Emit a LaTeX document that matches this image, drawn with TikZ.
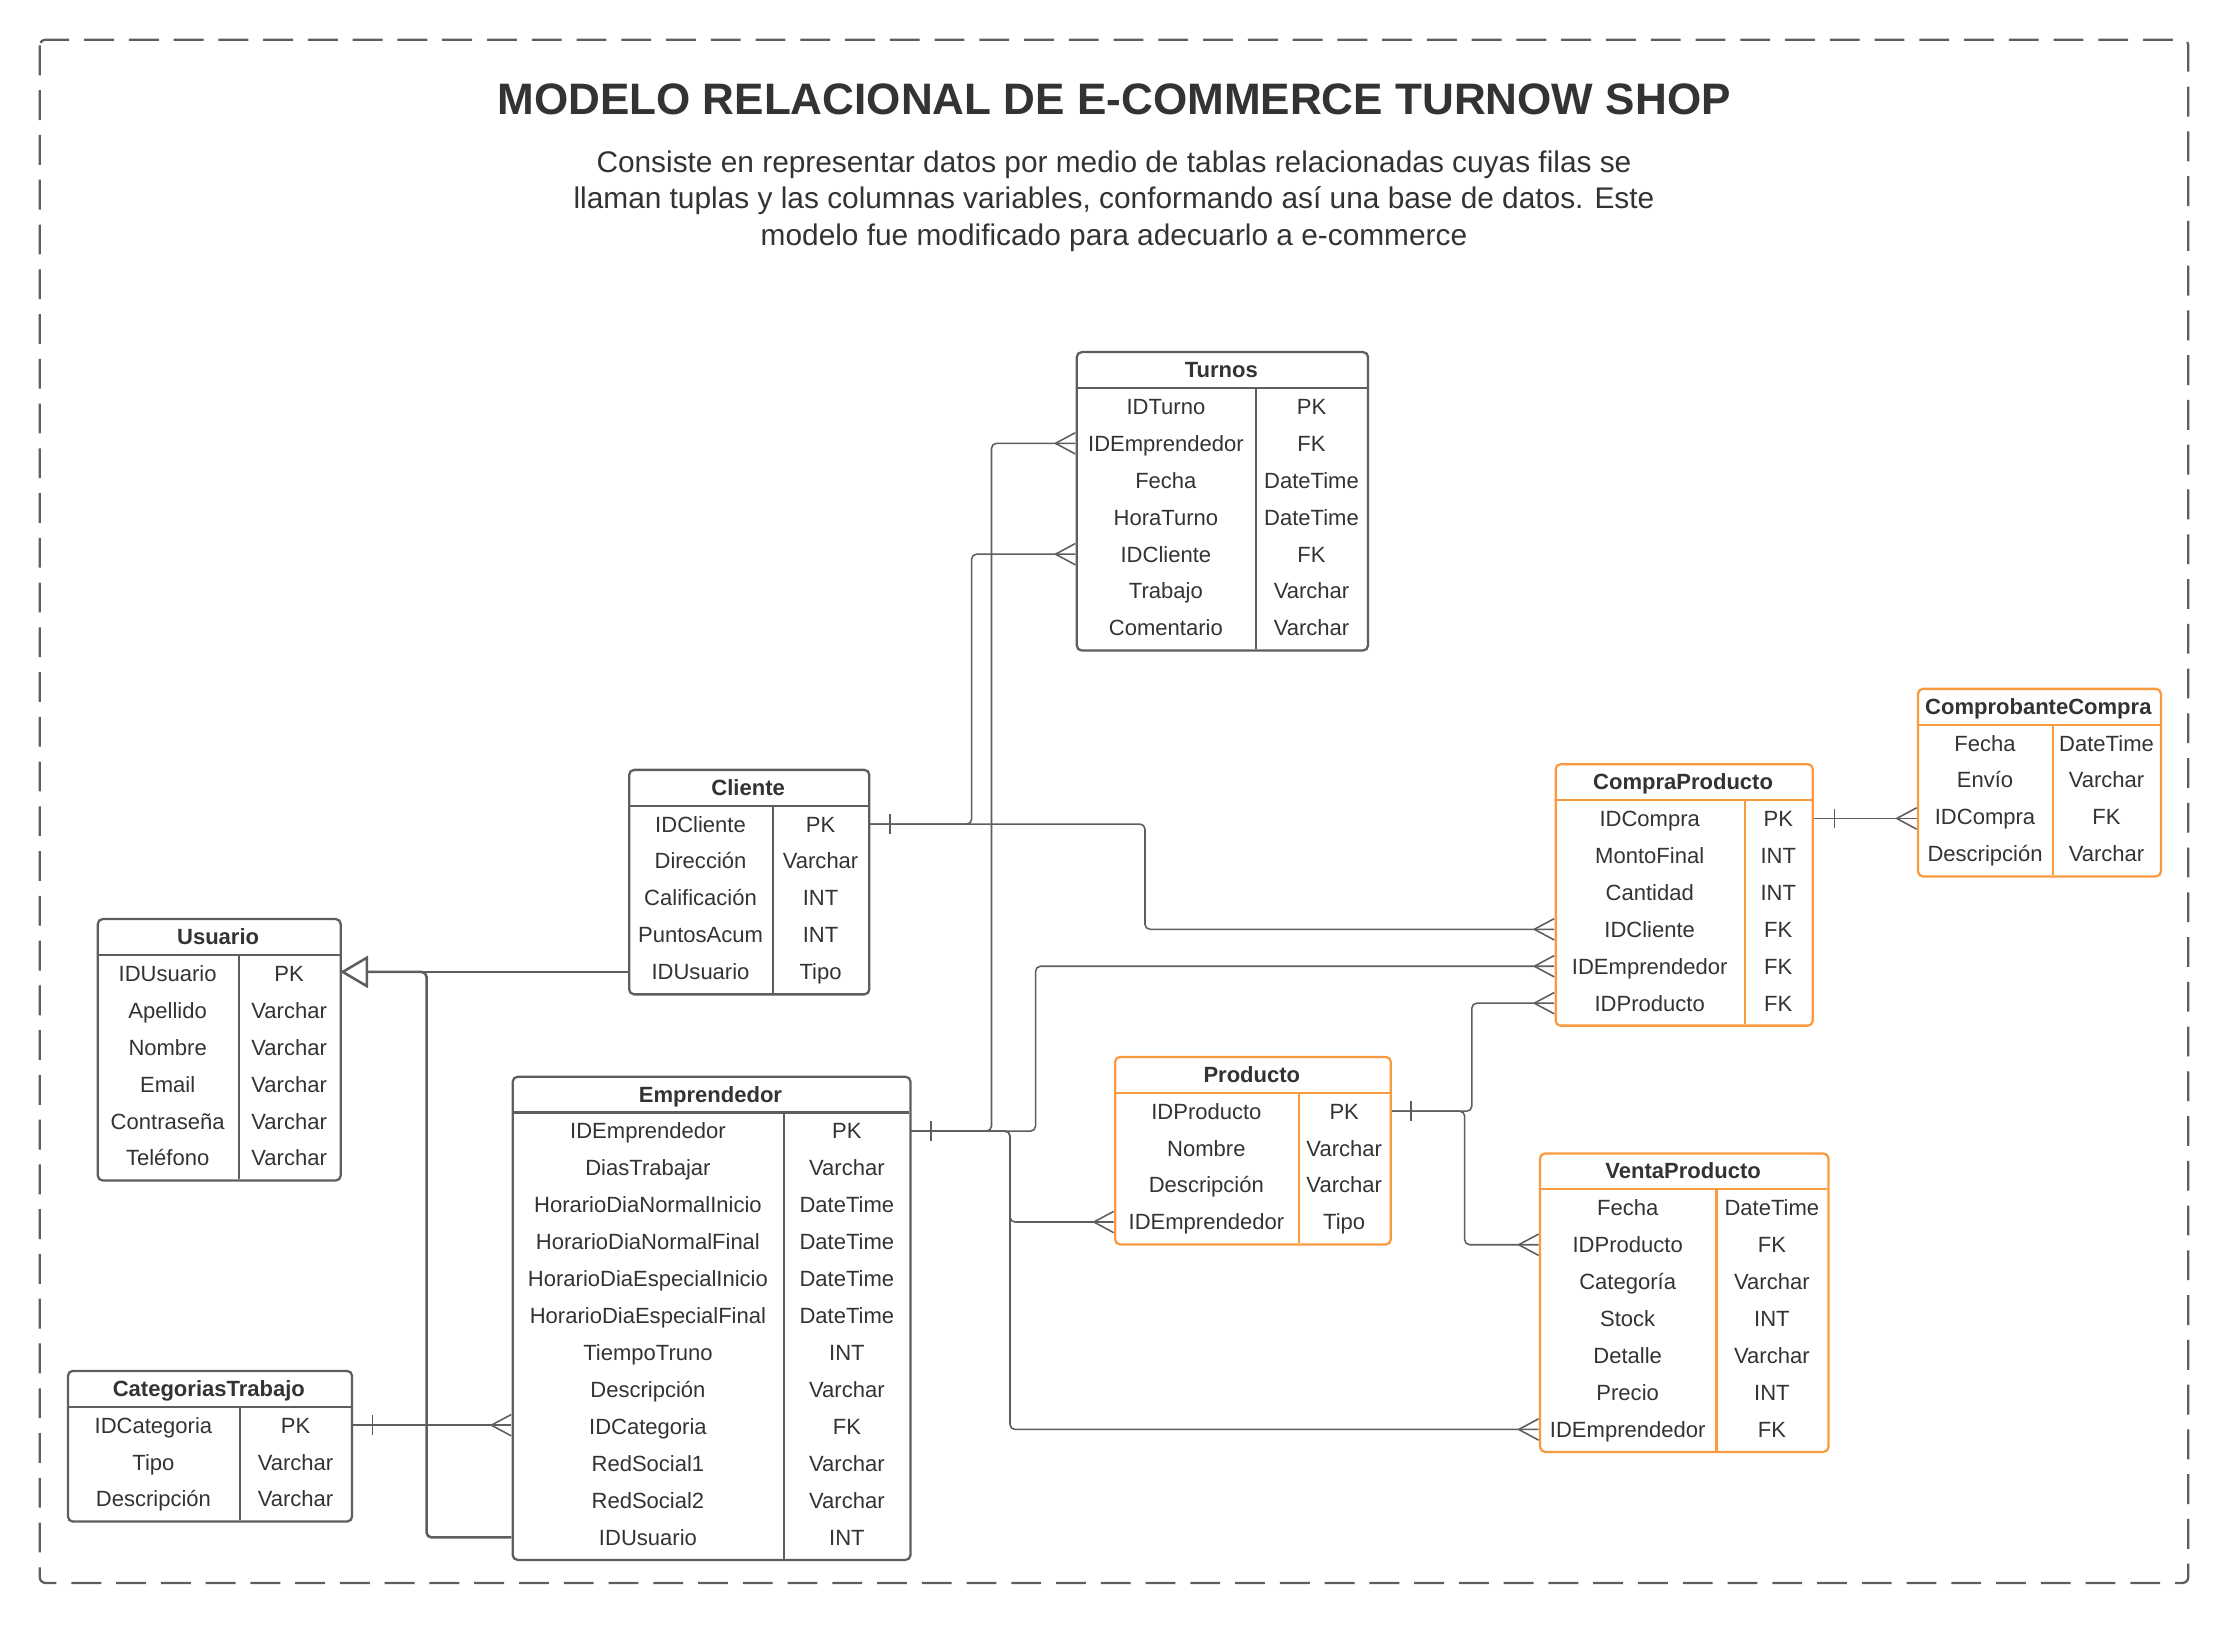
\documentclass[tikz,border=0pt]{standalone}
\usepackage{fontspec}
\setmainfont{Liberation Sans}
\usetikzlibrary{calc}
\definecolor{linec}{HTML}{5E5E5E}
\definecolor{txtc}{HTML}{333333}
\definecolor{orng}{HTML}{F99A3E}
\pgfdeclarelayer{bg}
\pgfsetlayers{bg,main}
\tikzset{
 tabbox/.style={draw, fill=white, rounded corners=3.5pt, line width=1.6pt, inner sep=0pt, anchor=north west},
 sepline/.style={line width=1.6pt},
 cell/.style={inner sep=0pt, text=txtc, font=\fontsize{15.5}{18}\selectfont, text height=11.1pt, text depth=0pt},
 hdr/.style={cell, font=\bfseries\fontsize{15.5}{18}\selectfont},
 rowbox/.style={inner sep=0pt, minimum height=26pt},
 conn/.style={draw=linec, line width=1.1pt, rounded corners=3.5pt},
 inh/.style={draw=linec, line width=1.8pt, rounded corners=3.5pt},
}
\newcommand\erdtab[9]{%
 \pgfmathsetmacro\erdw{#4-#2}%
 \pgfmathsetmacro\erdh{26+26*#6+2}%
 \node[tabbox, draw=#8, minimum width=\erdw pt, minimum height=\erdh pt] (#1) at (#2,#3) {};
 \draw[sepline, draw=#8] (#2,#3+26) -- (#4,#3+26);
 \draw[sepline, draw=#8] (#5,#3+26) -- (#5,#3+\erdh);
 \node[hdr] at ({(#2+#4)/2},#3+13) {#7};
 \foreach \fa/\fb [count=\i from 0] in {#9} {%
   \node[rowbox, minimum width=\erdw pt] (#1-\i) at ({(#2+#4)/2},#3+39+26*\i) {};
   \node[cell] at ({(#2+#5)/2},#3+39+26*\i) {\fa};
   \node[cell] at ({(#5+#4)/2},#3+39+26*\i) {\fb};
 }%
}
\newcommand\crowfoot[1]{\draw[conn] ($(#1)+(-14,0)$) -- ($(#1)+(0,-7.5)$) ($(#1)+(-14,0)$) -- ($(#1)+(0,7.5)$);}
\newcommand\onebar[2][15]{\draw[conn] ($(#2)+(#1,-7)$) -- ($(#2)+(#1,7)$);}
\begin{document}
\begin{tikzpicture}[x=1pt,y=-1pt]
\useasboundingbox (0,0) rectangle (1568,1143);
\draw[draw=linec, line width=1.6pt, rounded corners=4pt, dash pattern=on 21pt off 10.5pt] (28,28) rectangle (1540,1114);
\node[text=txtc, font=\bfseries\fontsize{31}{37}\selectfont] (title) at (784,70) {MODELO RELACIONAL DE E-COMMERCE TURNOW SHOP};
\node[text=txtc, font=\fontsize{21}{25.5}\selectfont, align=center] (sub) at (784,141.5) {Consiste en representar datos por medio de tablas relacionadas cuyas filas se\\llaman tuplas y las columnas variables, conformando así una base de datos. Este\\modelo fue modificado para adecuarlo a e-commerce};

\erdtab{turnos}{757}{247}{962}{884}{7}{Turnos}{linec}{IDTurno/PK,IDEmprendedor/FK,Fecha/DateTime,HoraTurno/DateTime,IDCliente/FK,Trabajo/Varchar,Comentario/Varchar}
\erdtab{cliente}{442}{541}{611}{544}{5}{Cliente}{linec}{IDCliente/PK,Dirección/Varchar,Calificación/INT,PuntosAcum/INT,IDUsuario/Tipo}
\erdtab{usuario}{68}{646}{239}{168}{6}{Usuario}{linec}{IDUsuario/PK,Apellido/Varchar,Nombre/Varchar,Email/Varchar,Contraseña/Varchar,Teléfono/Varchar}
\erdtab{emp}{360}{757}{640}{552}{12}{Emprendedor}{linec}{IDEmprendedor/PK,DiasTrabajar/Varchar,HorarioDiaNormalInicio/DateTime,HorarioDiaNormalFinal/DateTime,HorarioDiaEspecialInicio/DateTime,HorarioDiaEspecialFinal/DateTime,TiempoTruno/INT,Descripción/Varchar,IDCategoria/FK,RedSocial1/Varchar,RedSocial2/Varchar,IDUsuario/INT}
\erdtab{cat}{47}{964}{247}{169}{3}{CategoriasTrabajo}{linec}{IDCategoria/PK,Tipo/Varchar,Descripción/Varchar}
\erdtab{producto}{784}{743}{978}{914}{4}{Producto}{orng}{IDProducto/PK,Nombre/Varchar,Descripción/Varchar,IDEmprendedor/Tipo}
\erdtab{compra}{1094}{537}{1275}{1228}{6}{CompraProducto}{orng}{IDCompra/PK,MontoFinal/INT,Cantidad/INT,IDCliente/FK,IDEmprendedor/FK,IDProducto/FK}
\erdtab{comprob}{1349}{484}{1520}{1445}{4}{ComprobanteCompra}{orng}{Fecha/DateTime,Envío/Varchar,IDCompra/FK,Descripción/Varchar}
\erdtab{venta}{1083}{811}{1286}{1208}{7}{VentaProducto}{orng}{Fecha/DateTime,IDProducto/FK,Categoría/Varchar,Stock/INT,Detalle/Varchar,Precio/INT,IDEmprendedor/FK}

\coordinate (tip) at ($(cliente-4.west -| usuario-0.east)+(2,0)$);
\coordinate (inhj) at ($(cliente-4.west -| usuario-0.east)+(61,0)$);
\coordinate (catend) at (cat-0.east -| emp-8.west);
\coordinate (cmpend) at (compra-0.east -| comprob-2.west);

\begin{pgfonlayer}{bg}
\draw[conn] (cliente-0.east) -| ($(turnos-4.west)+(-73,0)$) -- (turnos-4.west);
\draw[conn] (cliente-0.east) -| ($(compra-3.west)+(-288,0)$) -- (compra-3.west);
\draw[conn] (emp-0.east) -| ($(turnos-1.west)+(-59,0)$) -- (turnos-1.west);
\draw[conn] (emp-0.east) -| ($(compra-4.west)+(-365,0)$) -- (compra-4.west);
\draw[conn] (emp-0.east) -| ($(producto-3.west)+(-73,0)$) -- (producto-3.west);
\draw[conn] (emp-0.east) -| ($(venta-6.west)+(-372,0)$) -- (venta-6.west);
\draw[conn] (cat-0.east) -- (catend);
\draw[conn] (producto-0.east) -| ($(compra-5.west)+(-58,0)$) -- (compra-5.west);
\draw[conn] (producto-0.east) -| ($(venta-1.west)+(-52,0)$) -- (venta-1.west);
\draw[conn] (compra-0.east) -- (cmpend);
\draw[inh] (cliente-4.west) -- (tip);
\draw[inh] (emp-11.west) -| (inhj) -- (tip);
\end{pgfonlayer}

\crowfoot{turnos-1.west}
\crowfoot{turnos-4.west}
\crowfoot{compra-3.west}
\crowfoot{compra-4.west}
\crowfoot{compra-5.west}
\crowfoot{producto-3.west}
\crowfoot{venta-1.west}
\crowfoot{venta-6.west}
\crowfoot{catend}
\crowfoot{cmpend}
\onebar{cliente-0.east}
\onebar{emp-0.east}
\onebar{cat-0.east}
\onebar{producto-0.east}
\onebar[16]{compra-0.east}
\draw[inh, fill=white, rounded corners=0pt] (tip) -- ++(17,-10) -- ++(0,20) -- cycle;
\end{tikzpicture}
\end{document}
